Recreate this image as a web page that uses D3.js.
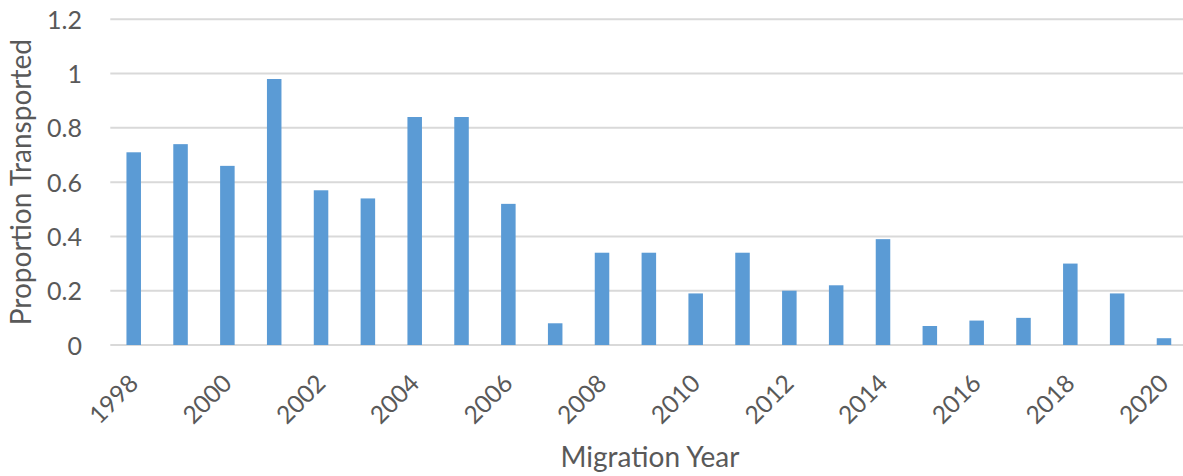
<!DOCTYPE html>
<html>
<head>
<meta charset="utf-8">
<script src="https://cdn.jsdelivr.net/npm/d3@7"></script>
<style>
  html, body { margin: 0; padding: 0; background: #fff; }
  svg { display: block; }
  text { font-family: Lato, "Open Sans", sans-serif; fill: #595959; }
</style>
</head>
<body>
<svg id="chart" width="1183" height="476"></svg>
<script>
// Migration years and the proportion of fish transported each year
const years = [1998, 1999, 2000, 2001, 2002, 2003, 2004, 2005, 2006, 2007, 2008,
               2009, 2010, 2011, 2012, 2013, 2014, 2015, 2016, 2017, 2018, 2019, 2020];
const proportions = [0.71, 0.74, 0.66, 0.98, 0.57, 0.54, 0.84, 0.84, 0.52, 0.08, 0.34,
                     0.34, 0.19, 0.34, 0.20, 0.22, 0.39, 0.07, 0.09, 0.10, 0.30, 0.19, 0.025];
const yTicks = [0, 0.2, 0.4, 0.6, 0.8, 1, 1.2];
const xLabelYears = years.filter(y => y % 2 === 0);

const svg = d3.select("#chart");
const plotLeft = 110.3, plotRight = 1187.4, plotTop = 19.3, plotBottom = 345;

const x = d3.scaleBand()
  .domain(years)
  .range([plotLeft, plotRight])
  .paddingInner(0.69)
  .paddingOuter(0.345);

const y = d3.scaleLinear().domain([0, 1.2]).range([plotBottom, plotTop]);

// horizontal gridlines
svg.append("g")
  .selectAll("line")
  .data(yTicks)
  .join("line")
  .attr("x1", plotLeft)
  .attr("x2", plotRight)
  .attr("y1", d => y(d))
  .attr("y2", d => y(d))
  .attr("stroke", "#d9d9d9")
  .attr("stroke-width", 2);

// bars
svg.append("g")
  .selectAll("rect")
  .data(years.map((yr, i) => ({ yr, v: proportions[i] })))
  .join("rect")
  .attr("x", d => x(d.yr))
  .attr("width", x.bandwidth())
  .attr("y", d => y(d.v))
  .attr("height", d => y(0) - y(d.v))
  .attr("fill", "#5b9bd5");

// y axis labels
const yAxis = d3.axisLeft(y).tickValues(yTicks).tickSize(0).tickPadding(0)
  .tickFormat(d => String(+d.toFixed(1)));
svg.append("g")
  .attr("transform", `translate(82,0)`)
  .call(yAxis)
  .call(g => g.select(".domain").remove())
  .call(g => g.selectAll("text")
    .style("font-family", "Lato, sans-serif")
    .attr("font-size", 25)
    .attr("dy", "0.36em")
    .attr("fill", "#595959"));

// x axis labels, rotated
const xAxis = d3.axisBottom(x).tickValues(xLabelYears).tickSize(0).tickPadding(0);
svg.append("g")
  .attr("transform", `translate(0,${plotBottom})`)
  .call(xAxis)
  .call(g => g.select(".domain").remove())
  .call(g => g.selectAll("text")
    .style("font-family", "Lato, sans-serif")
    .attr("font-size", 24.5)
    .attr("fill", "#595959")
    .attr("text-anchor", "end")
    .attr("dy", null)
    .attr("y", 0)
    .attr("transform", "translate(6,40) rotate(-45)"));

// axis titles
svg.append("text")
  .attr("x", 650)
  .attr("y", 467)
  .attr("text-anchor", "middle")
  .attr("font-size", 28)
  .text("Migration Year");

svg.append("text")
  .attr("transform", `translate(31,${(plotTop + plotBottom) / 2}) rotate(-90)`)
  .attr("text-anchor", "middle")
  .attr("font-size", 28)
  .text("Proportion Transported");
</script>
</body>
</html>
